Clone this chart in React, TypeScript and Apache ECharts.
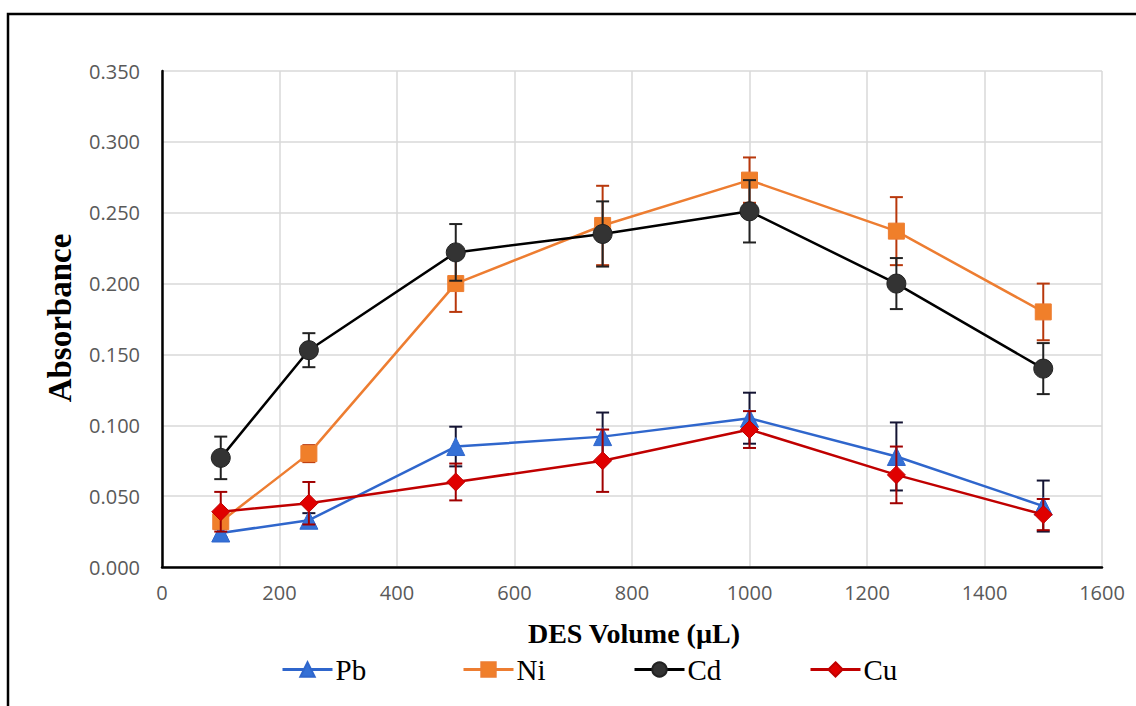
import React, { useEffect, useRef } from "react";
import * as echarts from "echarts";

const volumes = [100, 250, 500, 750, 1000, 1250, 1500];
const pb = [0.024, 0.033, 0.085, 0.092, 0.105, 0.078, 0.043];
const pbErr = [0.003, 0.005, 0.014, 0.017, 0.018, 0.024, 0.018];
const ni = [0.032, 0.080, 0.200, 0.241, 0.273, 0.237, 0.180];
const niErr = [0.004, 0.006, 0.020, 0.028, 0.016, 0.024, 0.020];
const cd = [0.077, 0.153, 0.222, 0.235, 0.251, 0.200, 0.140];
const cdErr = [0.015, 0.012, 0.020, 0.023, 0.022, 0.018, 0.018];
const cu = [0.039, 0.045, 0.060, 0.075, 0.097, 0.065, 0.037];
const cuErr = [0.014, 0.015, 0.013, 0.022, 0.013, 0.020, 0.011];

const seriesNames = ["Pb", "Ni", "Cd", "Cu"];
const xTitle = "DES Volume (µL)";
const yTitle = "Absorbance";

const SERIF = "'Liberation Serif', 'Times New Roman', serif";
const SANS = "'Open Sans', 'Noto Sans', sans-serif";

export default function App() {
  const ref = useRef<HTMLDivElement>(null);
  useEffect(() => {
    if (!ref.current) return;
    const chart = echarts.init(ref.current, undefined, { renderer: "svg" });

    const defs = [
      { name: "Pb", vals: pb, errs: pbErr, line: "#2F66CC", fill: "#3470D6", border: "#2F66CC", symbol: "triangle", size: 18, errColor: "#141433" },
      { name: "Ni", vals: ni, errs: niErr, line: "#ED7D31", fill: "#F07F2A", border: "#ED7D31", symbol: "rect", size: 16, errColor: "#B8380C" },
      { name: "Cd", vals: cd, errs: cdErr, line: "#000000", fill: "#333333", border: "#222222", symbol: "circle", size: 19, errColor: "#222222" },
      { name: "Cu", vals: cu, errs: cuErr, line: "#C00000", fill: "#E00000", border: "#C00000", symbol: "diamond", size: 18, errColor: "#A00000" },
    ];

    const series: any[] = [];
    defs.forEach((d, i) => {
      series.push({
        name: d.name + " error",
        type: "custom",
        z: 3 + i * 2,
        data: volumes.map((v, k) => [v, d.vals[k], d.errs[k]]),
        encode: { x: 0, y: 1 },
        renderItem: (params: any, api: any) => {
          const x = api.value(0);
          const y = api.value(1);
          const e = api.value(2);
          const top = api.coord([x, y + e]);
          const bot = api.coord([x, y - e]);
          const h = 6.5;
          const style = { stroke: d.errColor, lineWidth: 2 };
          return {
            type: "group",
            children: [
              { type: "line", shape: { x1: top[0], y1: top[1], x2: bot[0], y2: bot[1] }, style },
              { type: "line", shape: { x1: top[0] - h, y1: top[1], x2: top[0] + h, y2: top[1] }, style },
              { type: "line", shape: { x1: bot[0] - h, y1: bot[1], x2: bot[0] + h, y2: bot[1] }, style },
            ],
          };
        },
      });
      series.push({
        name: d.name,
        type: "line",
        z: 4 + i * 2,
        data: volumes.map((v, k) => [v, d.vals[k]]),
        symbol: d.symbol,
        symbolSize: d.size,
        showSymbol: true,
        lineStyle: { color: d.line, width: 2.5 },
        itemStyle: { color: d.fill, borderColor: d.border, borderWidth: 1 },
        emphasis: { disabled: true },
      });
    });

    const legendLefts = [281, 462, 633, 809];
    const legends = seriesNames.map((n, i) => ({
      data: [n],
      left: legendLefts[i],
      top: 655,
      itemWidth: 50,
      itemHeight: 18,
      itemGap: 0,
      padding: 0,
      selectedMode: false,
      lineStyle: { width: 3 },
      textStyle: { fontFamily: SERIF, fontSize: 29, color: "#000", padding: [0, 0, 0, -2] },
    }));

    chart.setOption({
      animation: false,
      backgroundColor: "#ffffff",
      grid: { left: 162, top: 71, right: 34, bottom: 139, containLabel: false },
      xAxis: {
        type: "value",
        min: 0,
        max: 1600,
        interval: 200,
        axisLine: { show: true, onZero: false, lineStyle: { color: "#000", width: 2.5 } },
        axisTick: { show: false },
        axisLabel: {
          fontFamily: SANS,
          fontSize: 20,
          color: "#595959",
          margin: 15,
          formatter: (v: number) => String(v),
        },
        splitLine: { show: true, lineStyle: { color: "#d9d9d9", width: 1.5 } },
      },
      yAxis: {
        type: "value",
        min: 0,
        max: 0.35,
        interval: 0.05,
        axisLine: { show: true, lineStyle: { color: "#000", width: 2.5 } },
        axisTick: { show: false },
        axisLabel: {
          fontFamily: SANS,
          fontSize: 20,
          color: "#595959",
          margin: 22,
          formatter: (v: number) => v.toFixed(3),
        },
        splitLine: { show: true, lineStyle: { color: "#d9d9d9", width: 1.5 } },
      },
      legend: legends,
      graphic: [
        {
          type: "rect",
          silent: true,
          shape: { x: 8, y: 14, width: 1200, height: 800 },
          style: { fill: "none", stroke: "#000", lineWidth: 2.5 },
          z: 100,
        },
        {
          type: "text",
          x: 634,
          y: 633,
          style: {
            text: xTitle,
            fontFamily: SERIF,
            fontSize: 28,
            fontWeight: "bold",
            fill: "#000",
            textAlign: "center",
            textVerticalAlign: "middle",
          },
        },
        {
          type: "text",
          x: 60,
          y: 318,
          rotation: Math.PI / 2,
          style: {
            text: yTitle,
            fontFamily: SERIF,
            fontSize: 33,
            fontWeight: "bold",
            fill: "#000",
            textAlign: "center",
            textVerticalAlign: "middle",
          },
        },
      ],
      series,
    });
    return () => chart.dispose();
  }, []);
  return (
    <div
      ref={ref}
      style={{ position: "fixed", left: 0, top: 0, width: 1136, height: 706, background: "#fff" }}
    />
  );
}
